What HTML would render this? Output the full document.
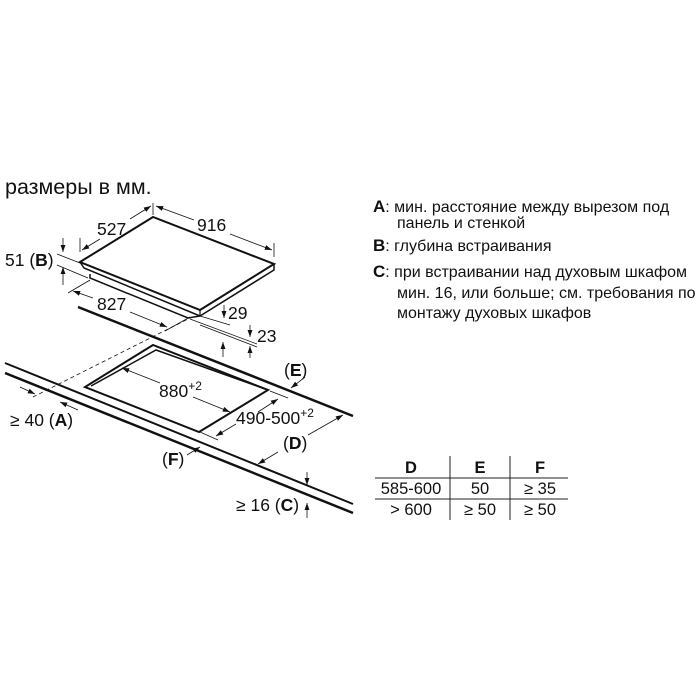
<!DOCTYPE html>
<html><head><meta charset="utf-8"><style>
body{margin:0;background:#fff}
svg{display:block}
text{font-family:"Liberation Sans",sans-serif;fill:#111}
</style></head><body>
<svg width="700" height="700" viewBox="0 0 700 700" xmlns="http://www.w3.org/2000/svg">
<defs>
<marker id="a" viewBox="0 0 10 10" refX="10" refY="5" markerWidth="9" markerHeight="9" orient="auto-start-reverse"><path d="M0,1.5 L10,5 L0,8.5z" fill="#111"/></marker>
</defs>
<text x="5" y="194" font-size="21.5">размеры в мм.</text>

<!-- hob -->
<g fill="none" stroke="#111">
<polygon points="80,262 153,217 274,264 200,310" stroke-width="2" fill="#fff"/>
<polyline points="80,262 84,268 200,316 274,270 274,264" stroke-width="1.5"/>
<polyline points="90,274 90,278 188,318 200,316" stroke-width="1.5"/>
<line x1="200" y1="310" x2="200" y2="316" stroke-width="1.2"/>
</g>
<!-- dims on hob -->
<g stroke="#111" stroke-width="0.8" fill="none">
<line x1="80" y1="238" x2="80" y2="252"/>
<line x1="153" y1="203" x2="153" y2="215"/>
<line x1="274" y1="243" x2="274" y2="257"/>
<line x1="82" y1="250" x2="100" y2="239" marker-start="url(#a)"/>
<line x1="130" y1="219" x2="151" y2="206" marker-end="url(#a)"/>
<line x1="156" y1="206" x2="194" y2="220" marker-start="url(#a)"/>
<line x1="230" y1="234" x2="272" y2="250" marker-end="url(#a)"/>
<line x1="57" y1="254" x2="80" y2="263"/>
<line x1="57" y1="265" x2="88" y2="278"/>
<line x1="63" y1="238" x2="63" y2="252" marker-end="url(#a)"/>
<line x1="63" y1="285" x2="63" y2="267" marker-end="url(#a)"/>
<line x1="68" y1="293" x2="90" y2="280"/>
<line x1="73" y1="291" x2="93" y2="298" marker-start="url(#a)"/>
<line x1="130" y1="312" x2="167" y2="327" marker-end="url(#a)"/>
<line x1="165" y1="331" x2="190" y2="317"/>
<line x1="200" y1="316" x2="230" y2="325"/>
<line x1="190" y1="319" x2="257" y2="344"/>
<line x1="200" y1="325" x2="257" y2="347"/>
<line x1="224" y1="305" x2="224" y2="318" marker-end="url(#a)"/>
<line x1="223" y1="357" x2="223" y2="342" marker-end="url(#a)"/>
<line x1="250" y1="325" x2="250" y2="337" marker-end="url(#a)"/>
<line x1="250" y1="358" x2="250" y2="346" marker-end="url(#a)"/>
<line x1="33" y1="397" x2="190" y2="318" stroke-dasharray="4,3"/>
</g>
<text x="97" y="235" font-size="17.5">527</text>
<text x="197" y="231" font-size="17.5">916</text>
<text x="5" y="266" font-size="17.5">51 (<tspan font-weight="bold">B</tspan>)</text>
<text x="97" y="310" font-size="17.5">827</text>
<text x="228" y="319" font-size="17.5">29</text>
<text x="257" y="342" font-size="17.5">23</text>

<!-- worktop -->
<g stroke="#111" fill="none">
<line x1="78" y1="307" x2="353" y2="416" stroke-width="2.5"/>
<line x1="5" y1="363" x2="353" y2="504" stroke-width="2"/>
<line x1="5" y1="373" x2="353" y2="513" stroke-width="2.5"/>
<polygon points="153,345 85,387 199,432 268,390" stroke-width="2"/>
<polyline points="91,386 156,350 268,390" stroke-width="1.5"/>
</g>
<g stroke="#111" stroke-width="0.8" fill="none">
<line x1="122" y1="368" x2="160" y2="383" marker-start="url(#a)"/>
<line x1="193" y1="397" x2="230" y2="412" marker-end="url(#a)"/>
<line x1="270" y1="391" x2="288" y2="398"/>
<line x1="200" y1="432" x2="218" y2="440"/>
<line x1="216" y1="436" x2="236" y2="424" marker-start="url(#a)"/>
<line x1="258" y1="412" x2="278" y2="399" marker-end="url(#a)"/>
<line x1="305" y1="377" x2="291" y2="388" marker-end="url(#a)"/>
<line x1="258" y1="464" x2="278" y2="452" marker-start="url(#a)"/>
<line x1="308" y1="435" x2="343" y2="415" marker-end="url(#a)"/>
<line x1="187" y1="455" x2="200" y2="447" marker-end="url(#a)"/>
<line x1="20" y1="387" x2="35" y2="394" marker-end="url(#a)"/>
<line x1="78" y1="410" x2="60" y2="402" marker-end="url(#a)"/>
<line x1="307" y1="472" x2="307" y2="485" marker-end="url(#a)"/>
<line x1="307" y1="518" x2="307" y2="503" marker-end="url(#a)"/>
</g>
<text x="159" y="397" font-size="17.5">880<tspan font-size="12" dy="-7">+2</tspan></text>
<text x="236" y="424" font-size="17.5">490-500<tspan font-size="12" dy="-7">+2</tspan></text>
<text x="284" y="376" font-size="17.5">(<tspan font-weight="bold">E</tspan>)</text>
<text x="283" y="449" font-size="17.5">(<tspan font-weight="bold">D</tspan>)</text>
<text x="162" y="465" font-size="17.5">(<tspan font-weight="bold">F</tspan>)</text>
<text x="10" y="426" font-size="17.5">≥ 40 (<tspan font-weight="bold">A</tspan>)</text>
<text x="236" y="511" font-size="17.5">≥ 16 (<tspan font-weight="bold">C</tspan>)</text>

<!-- legend -->
<g font-size="16">
<text x="373" y="212"><tspan font-weight="bold" font-size="17">A</tspan>: мин. расстояние между вырезом под</text>
<text x="397" y="228">панель и стенкой</text>
<text x="373" y="251"><tspan font-weight="bold" font-size="17">B</tspan>:  глубина встраивания</text>
<text x="373" y="277"><tspan font-weight="bold" font-size="17">C</tspan>: при встраивании над духовым шкафом</text>
<text x="397" y="298">мин. 16, или больше; см. требования по</text>
<text x="397" y="318">монтажу духовых шкафов</text>
</g>

<!-- table -->
<g stroke="#222" stroke-width="1">
<line x1="375" y1="478" x2="568" y2="478"/>
<line x1="375" y1="499" x2="568" y2="499"/>
<line x1="450" y1="456" x2="450" y2="520"/>
<line x1="510" y1="456" x2="510" y2="520"/>
</g>
<g font-size="16.5" text-anchor="middle">
<text x="411" y="473" font-weight="bold">D</text>
<text x="480" y="473" font-weight="bold">E</text>
<text x="540" y="473" font-weight="bold">F</text>
<text x="411" y="494">585-600</text>
<text x="480" y="494">50</text>
<text x="540" y="494">≥ 35</text>
<text x="411" y="515">&gt; 600</text>
<text x="480" y="515">≥ 50</text>
<text x="540" y="515">≥ 50</text>
</g>
</svg>
</body></html>
